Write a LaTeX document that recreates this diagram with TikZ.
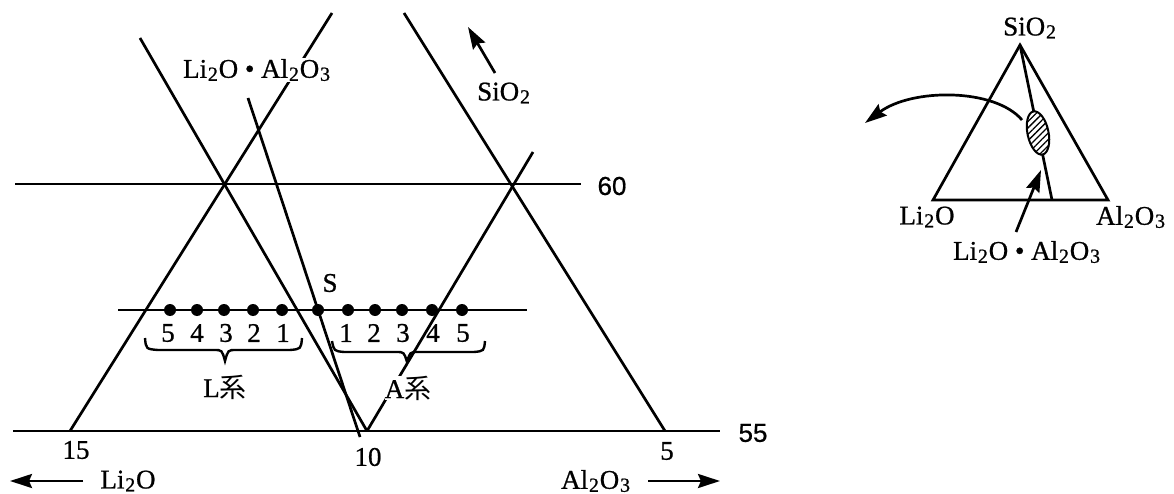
\documentclass[tikz,border=0pt]{standalone}
\usepackage{fontspec}
\setmainfont{Liberation Serif}[FakeBold=0.8]
\setsansfont{Liberation Sans}[FakeBold=0.6]
\newfontfamily\cjk{Noto Sans CJK JP}
\usetikzlibrary{arrows.meta,patterns.meta,shapes.geometric}
\newcommand\subs[1]{\kern0.8pt\raisebox{-3pt}{\fontsize{20}{20}\selectfont #1}\kern0.8pt}
\begin{document}
\begin{tikzpicture}[x=1pt,y=-1pt,
  ln/.style={line width=2.7pt},
  lbl/.style={font=\fontsize{27}{30}\selectfont, inner sep=1pt},
  snum/.style={font=\sffamily\fontsize{26}{30}\selectfont, inner sep=1pt},
  tipped/.style={-{Stealth[length=22pt,width=14pt,inset=3pt]}},
  blob/.style={circle, fill=black, inner sep=0pt, minimum size=12pt},
]
\useasboundingbox (0,0) rectangle (1174,494);
% ---- main diagram coordinates
\coordinate (A1) at (70,431);  \coordinate (A2) at (332,13);
\coordinate (B1) at (140,38);  \coordinate (B2) at (367,431);
\coordinate (C1) at (248,98);  \coordinate (C2) at (360,437);
\coordinate (D1) at (367,431); \coordinate (D2) at (533,152);
\coordinate (E1) at (404,13);  \coordinate (E2) at (665,431);
\coordinate (H60a) at (15,184); \coordinate (H60b) at (581,184);
\coordinate (H55a) at (13,431); \coordinate (H55b) at (720,431);
\coordinate (Ra) at (118,310); \coordinate (Rb) at (527,310);
\draw[ln] (A1) -- (A2);
\draw[ln] (B1) -- (B2);
\draw[ln] (C1) -- (C2);
\draw[ln] (D1) -- (D2);
\draw[ln] (E1) -- (E2);
\draw[ln] (H60a) -- (H60b);
\draw[ln] (H55a) -- (H55b);
\draw[ln] (Ra) -- (Rb);
% dots
\foreach \n/\x in {L5/170,L4/197,L3/224,L2/253,L1/282,S/318,R1/348,R2/375,R3/402,R4/432,R5/462}
  \node[blob] (d\n) at (\x,310) {};
% dot labels
\foreach \n/\t/\x in {L5/5/168,L4/4/197,L3/3/226,L2/2/254,L1/1/283,R1/1/346,R2/2/374,R3/3/403,R4/4/433,R5/5/463}
  \node[lbl] (t\n) at (\x,333) {\t};
% braces
\draw[ln, line width=2.4pt] (145,338) .. controls (146,349) .. (158,350) -- (214,350)
   .. controls (222,350) .. (225,361) .. controls (228,350) .. (236,350) -- (290,350)
   .. controls (301,349) .. (302,338);
\draw[ln, line width=2.4pt] (332,341) .. controls (334,351) .. (344,352) -- (396,352)
   .. controls (404,352) .. (407,362) .. controls (410,352) .. (418,352) -- (474,352)
   .. controls (484,351) .. (485,341);
\node[lbl] (Lsys) at (225,387) {L{\cjk 系}};
\node[lbl, fill=white, inner sep=0pt] (Asys) at (408,388) {A{\cjk 系}};
\node[lbl] (Slab) at (330,283) {S};
% labels
\node[lbl, fill=white, inner sep=1pt] (top) at (257,70) {Li\subs{2}O \textbullet{} Al\subs{2}O\subs{3}};
\node[lbl] (sio) at (504,93) {SiO\subs{2}};
\coordinate (sioT) at (495,73); \coordinate (sioH) at (468,27);
\draw[ln, tipped] (sioT) -- (sioH);
\node[snum] (n60) at (612,186) {60};
\node[snum] (n55) at (753,433) {55};
\node[lbl] (n15) at (76,450) {15};
\node[lbl] (n10) at (368,457) {10};
\node[lbl] (n5) at (667,451) {5};
\node[lbl] (bLi) at (128,481) {Li\subs{2}O};
\node[lbl] (bAl) at (596,481) {Al\subs{2}O\subs{3}};
\coordinate (lT) at (83,481); \coordinate (lH) at (10,481);
\coordinate (rT) at (648,481); \coordinate (rH) at (720,481);
\draw[ln, tipped] (lT) -- (lH);
\draw[ln, tipped] (rT) -- (rH);
% ---- inset
\coordinate (Ttop) at (1020,45); \coordinate (Tl) at (933,200);
\coordinate (Tr) at (1108,200); \coordinate (Tm) at (1052,200);
\draw[ln, line join=miter] (Tl) -- (Ttop) -- (Tr) -- cycle;
\draw[ln] (Ttop) -- (Tm);
\node[ellipse, draw, line width=2pt, minimum width=21pt, minimum height=44pt, inner sep=0pt,
  rotate=12, fill=white, postaction={pattern={Lines[angle=45,distance=4.5pt,line width=1.3pt]}}]
  (ell) at (1038,133) {};
\coordinate (cS) at (1022,120); \coordinate (cE) at (865,123);
\draw[ln, tipped] (cS) .. controls (995,88) and (912,88) .. (cE);
\coordinate (sS) at (1016,232); \coordinate (sE) at (1041,170);
\draw[ln, tipped] (sS) -- (sE);
\node[lbl] (iSi) at (1030,28) {SiO\subs{2}};
\node[lbl] (iLi) at (927,217) {Li\subs{2}O};
\node[lbl] (iAl) at (1131,217) {Al\subs{2}O\subs{3}};
\node[lbl] (iLA) at (1027,252) {Li\subs{2}O \textbullet{} Al\subs{2}O\subs{3}};
\end{tikzpicture}
\end{document}
